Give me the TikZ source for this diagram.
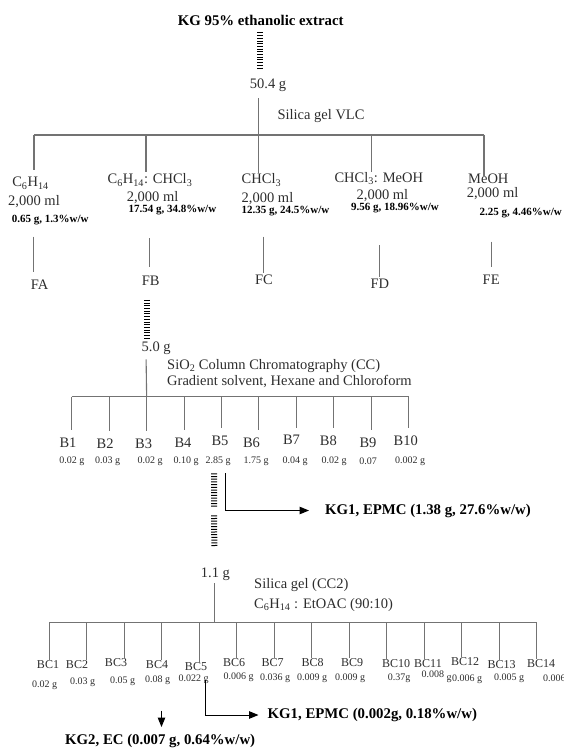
\documentclass[tikz,border=0pt]{standalone}
\usepackage{fontspec}
\setmainfont{Liberation Serif}
\usetikzlibrary{arrows.meta,calc,positioning}
\definecolor{flowLine}{RGB}{115,115,115}
\definecolor{flowText}{RGB}{45,45,45}

\begin{document}
\begin{tikzpicture}[x=1pt,y=-1pt,
  lbl/.style={inner sep=0pt, text=flowText, font=\fontsize{14.5}{16}\selectfont},
  lblw/.style={lbl, anchor=west},
  bcl/.style={inner sep=0pt, text=flowText, font=\fontsize{12}{13}\selectfont},
  amt/.style={inner sep=0pt, text=flowText, font=\fontsize{10}{11}\selectfont},
  yld/.style={inner sep=0pt, font=\bfseries\fontsize{11}{12}\selectfont},
  res/.style={inner sep=0pt, anchor=west, font=\bfseries\fontsize{14.8}{16}\selectfont},
  tree/.style={draw=flowLine, line width=1.1pt},
  ladder/.style={draw=black, line width=6pt, dash pattern=on 1pt off 1.7pt},
  yieldarrow/.style={draw=black, line width=1pt, -{Triangle[length=9.5pt,width=7.5pt]}}
]
\path[use as bounding box] (0,0) rectangle (563,751);
\clip (0,0) rectangle (563,751);

% crude extract and VLC
\node[res, anchor=center] (ext) at (260.7,20) {KG 95\% ethanolic extract};
\node[lbl] (w504) at (268,85) {50.4 g};
\node[lblw] (vlc) at (277.3,116.5) {Silica gel VLC};
\draw[ladder] ($(ext.south)+(-0.7,7)$) -- ($(w504.north)+(-8,-8.5)$);
\coordinate (d1) at (34,135);
\coordinate (d2) at (146,135);
\coordinate (d3) at (258.3,135);
\coordinate (d4) at (371.5,135);
\coordinate (d5) at (484,135);
\draw[tree] ($(w504.south)+(-9.7,6.5)$) -- (d3);
\draw[tree] (d1) -- (d5);

\node[lbl] (sA) at (30.5,183.3) {C\textsubscript{6}H\textsubscript{14}};
\node[lbl] (vA) at (34,201.7) {2,000 ml};
\node[yld] (yA) at (50.3,220) {0.65 g, 1.3\%w/w};
\node[lbl] (sB) at (150,180) {C\textsubscript{6}H\textsubscript{14}: CHCl\textsubscript{3}};
\node[lbl] (vB) at (152.6,197.3) {2,000 ml};
\node[yld] (yB) at (172.4,210) {17.54 g, 34.8\%w/w};
\node[lbl] (sC) at (261.4,180) {CHCl\textsubscript{3}};
\node[lbl] (vC) at (267.5,199) {2,000 ml};
\node[yld] (yC) at (285.5,210.7) {12.35 g, 24.5\%w/w};
\node[lbl] (sD) at (378.8,178.3) {CHCl\textsubscript{3}: MeOH};
\node[lbl] (vD) at (382.4,196) {2,000 ml};
\node[yld] (yD) at (395,208.3) {9.56 g, 18.96\%w/w};
\node[lbl] (sE) at (488.3,178.3) {MeOH};
\node[lbl] (vE) at (492.6,194) {2,000 ml};
\node[yld, anchor=west] (yE) at (479.5,213) {2.25 g, 4.46\%w/w};
\draw[tree, shorten >=7pt] (d1) -- (d1 |- sA.north);
\draw[tree, shorten >=1.3pt] (d2) -- (d2 |- sB.north);
\draw[tree, shorten >=0.7pt] (d3) -- (d3 |- sC.north);
\draw[tree] (d4) -- (d4 |- sD.north);
\draw[tree, shorten >=2pt] (d5) -- (d5 |- sE.center);

\node[lbl] (fA) at (39.5,284.3) {FA};
\node[lbl] (fB) at (150.8,281) {FB};
\node[lbl] (fC) at (263.9,280) {FC};
\node[lbl] (fD) at (379.9,283.3) {FD};
\node[lbl] (fE) at (491.2,279.3) {FE};
\coordinate (tA) at (33.4,236.7);
\coordinate (tB) at (149.7,238.3);
\coordinate (tC) at (263.9,236.7);
\coordinate (tD) at (379.9,245);
\coordinate (tE) at (491.2,241.7);
\draw[tree, shorten >=7.7pt] (tA) -- (tA |- fA.north);
\draw[tree, shorten >=9.4pt] (tB) -- (tB |- fB.north);
\draw[tree, shorten >=1.8pt] (tC) -- (tC |- fC.north);
\draw[tree, shorten >=1.7pt] (tD) -- (tD |- fD.north);
\draw[tree, shorten >=7.7pt] (tE) -- (tE |- fE.north);

% FB on silica column
\node[lbl] (w50) at (156.2,348.3) {5.0 g};
\draw[ladder] ($(fB.south)+(-3.6,14)$) -- ($(w50.north)+(-9,-3.5)$);
\node[lblw] (cc) at (167,366) {SiO\textsubscript{2} Column Chromatography (CC)};
\node[lblw] (grad) at (167,381.7) {Gradient solvent, Hexane and Chloroform};
\foreach \i in {1,...,10} \coordinate (e\i) at ({71.8+37.42*(\i-1)},396.7);
\draw[tree] ($(w50.south)+(-10.1,4.5)$) -- (e3);
\draw[tree] (e1) -- (e10);

\node[lbl] (b1) at (68,442.7) {B1};
\node[lbl] (b2) at (105.2,444) {B2};
\node[lbl] (b3) at (143.6,444) {B3};
\node[lbl] (b4) at (183,442.3) {B4};
\node[lbl] (b5) at (220,441) {B5};
\node[lbl] (b6) at (251.5,442.3) {B6};
\node[lbl] (b7) at (291.5,440) {B7};
\node[lbl] (b8) at (328.3,441) {B8};
\node[lbl] (b9) at (368,442.7) {B9};
\node[lbl] (b10) at (405.7,441) {B10};
\foreach \i in {1,...,10} \draw[tree, shorten >=7.5pt] (e\i) -- (e\i |- b\i.north);

\node[amt] (qb1) at (71.8,461) {0.02 g};
\node[amt] (qb2) at (107.7,461) {0.03 g};
\node[amt] (qb3) at (150,461) {0.02 g};
\node[amt] (qb4) at (186,461) {0.10 g};
\node[amt] (qb5) at (218,461) {2.85 g};
\node[amt] (qb6) at (256,461) {1.75 g};
\node[amt] (qb7) at (295,461) {0.04 g};
\node[amt] (qb8) at (334,461) {0.02 g};
\node[amt] (qb9) at (368,461) {0.07};
\node[amt] (qb10) at (410,461) {0.002 g};

\node[res] (kgA) at (325,510.5) {KG1, EPMC (1.38 g, 27.6\%w/w)};
\draw[yieldarrow, shorten >=16pt] ($(qb5.south)+(7,7.7)$) |- (kgA.west);

% B5 on second column
\node[lbl] (w11) at (215.4,574) {1.1 g};
\draw[ladder] ($(qb5.south)+(-4,7.7)$) -- ++(0,35) ++(0,7) -- ($(w11.north)+(-1,-19.8)$);
\node[lblw] (cc2) at (254,585) {Silica gel (CC2)};
\node[lblw] (elu) at (254,605) {C\textsubscript{6}H\textsubscript{14} : EtOAC (90:10)};
\coordinate (h0) at (214.4,622.7);
\foreach \i in {1,...,14} \coordinate (g\i) at ({49.2+37.51*(\i-1)},622.7);
\draw[tree] ($(w11.south)+(-1,2.8)$) -- (h0);
\draw[tree] (g1) -- (g14);

\node[bcl] (bc1) at (48,665) {BC1};
\node[bcl] (bc2) at (77,665) {BC2};
\node[bcl] (bc3) at (116,663) {BC3};
\node[bcl] (bc4) at (157,665) {BC4};
\node[bcl] (bc5) at (196,667) {BC5};
\node[bcl] (bc6) at (234,663) {BC6};
\node[bcl] (bc7) at (272.5,663) {BC7};
\node[bcl] (bc8) at (312.5,663) {BC8};
\node[bcl] (bc9) at (352,663) {BC9};
\node[bcl] (bc10) at (396,664) {BC10};
\node[bcl] (bc11) at (428,664) {BC11};
\node[bcl] (bc12) at (465,662) {BC12};
\node[bcl] (bc13) at (501.5,665) {BC13};
\node[bcl] (bc14) at (541,664) {BC14};
\foreach \i in {1,...,14} \draw[tree, shorten >=0.5pt] (g\i) -- (g\i |- bc\i.north);

\node[amt] (qc1) at (44.7,685) {0.02 g};
\node[amt] (qc2) at (82.5,682) {0.03 g};
\node[amt] (qc3) at (122.5,681) {0.05 g};
\node[amt] (qc4) at (157.5,680) {0.08 g};
\node[amt] (qc5) at (193.5,679) {0.022 g};
\node[amt] (qc6) at (238.5,677) {0.006 g};
\node[amt] (qc7) at (275,678) {0.036 g};
\node[amt] (qc8) at (312,678) {0.009 g};
\node[amt] (qc9) at (350,678) {0.009 g};
\node[amt] (qc10) at (399,678) {0.37g};
\node[amt] (qc11) at (436.5,677) {\raisebox{3pt}{0.008} g};
\node[amt] (qc12) at (467,679) {0.006 g};
\node[amt] (qc13) at (509,678) {0.005 g};
\node[amt, anchor=west] (qc14) at (543,679) {0.006 g};

\node[res] (kgB) at (267.5,715) {KG1, EPMC (0.002g, 0.18\%w/w)};
\node[res] (kgC) at (65,741) {KG2, EC (0.007 g, 0.64\%w/w)};
\draw[yieldarrow, shorten >=9pt] ($(qc5.south)+(12,-4)$) |- (kgB.west);
\coordinate (dn) at ($(qc4.south)+(4,26)$);
\draw[yieldarrow, shorten >=7pt] (dn) -- (dn |- kgC.north);
\end{tikzpicture}
\end{document}
